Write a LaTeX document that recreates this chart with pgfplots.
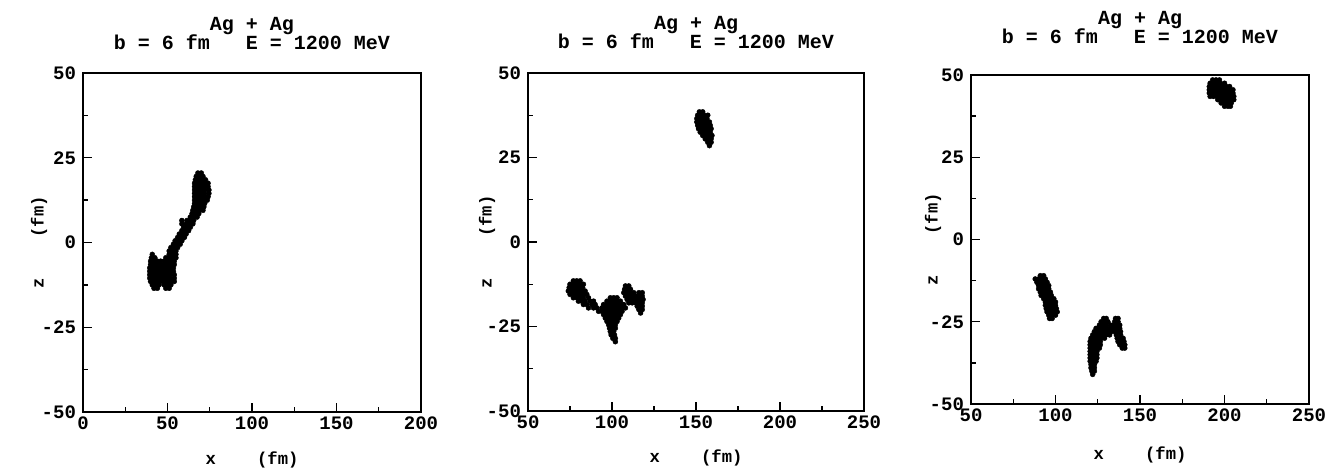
\documentclass[border=0pt]{standalone}
\usepackage{pgfplots}
\pgfplotsset{compat=1.18}
\usepackage{fontspec}
\setmainfont{Liberation Mono}
\pgfplotsset{
  panel/.style={
    scale only axis, width=169pt, height=169.5pt,
    axis line style={line width=0.9pt, black},
    tick style={black, line width=0.7pt},
    xtick pos=bottom, ytick pos=left, tick align=inside,
    major tick length=4.5pt, minor tick length=2.5pt,
    ymin=-50, ymax=50, ytick={-50,-25,0,25,50}, minor y tick num=1,
    minor x tick num=1,
    /pgf/number format/assume math mode=true,
    ticklabel style={font=\bfseries\fontsize{9.5}{9.5}\selectfont},
    xticklabel style={yshift=1pt},
    label style={font=\bfseries\fontsize{8.6}{9}\selectfont},
    xlabel={x\ \ \ \ (fm)}, ylabel={z\ \ \ \ (fm)},
    title={Ag + Ag\\[-2.5pt]b = 6 fm\ \ \ E = 1200 MeV},
    title style={font=\bfseries\fontsize{10}{12}\selectfont, align=center, anchor=center},
    clip=false
  },
  mk/.style={only marks, mark=*, mark size=1.25pt, black, mark options={line width=0.2pt}}
}
\begin{document}
\begin{tikzpicture}
\useasboundingbox (0,0) rectangle (663.5pt,234pt);
% ---------------- Panel 1 ----------------
\begin{axis}[panel, at={(41.5pt,28pt)}, anchor=south west,
  xmin=0, xmax=200, xtick={0,50,100,150,200},
  title style={at={(axis description cs:0.5,1)}, yshift=14pt},
  xlabel style={at={(axis description cs:0.5,-0.142)}, anchor=center},
  ylabel style={at={(axis description cs:-0.13,0.5)}, anchor=center}]
\addplot[mk] coordinates {
(68,20.5)(70,20.5)
(67,19.5)(69,19.5)(71,19.5)
(66.5,18.5)(68.5,18.5)(70.5,18.5)(72.5,18.5)
(66,17.5)(68,17.5)(70,17.5)(72,17.5)(74,17.5)
(66,16.5)(68,16.5)(70,16.5)(72,16.5)(74,16.5)
(66,15.5)(68,15.5)(70,15.5)(72,15.5)(74.5,15.5)
(66,14.5)(68,14.5)(70,14.5)(72,14.5)(74.5,14.5)
(66,13.5)(68,13.5)(70,13.5)(72,13.5)(74,13.5)
(66,12.5)(68,12.5)(70,12.5)(72,12.5)(73.5,12.5)
(66,11.5)(68,11.5)(70,11.5)(72,11.5)
(65.5,10.5)(67.5,10.5)(69.5,10.5)(71.5,10.5)
(65,9.5)(67,9.5)(69,9.5)(71,9.5)
(64.5,8.5)(66.5,8.5)(68.5,8.5)
(63.5,7.5)(65.5,7.5)(67.5,7.5)
(58.5,6.5)(61.5,6.5)(63.5,6.5)(65.5,6.5)
(58.5,5.5)(61,5.5)(63,5.5)(65,5.5)
(59.5,4.5)(61.5,4.5)(63.5,4.5)
(58.5,3.5)(60.5,3.5)(62.5,3.5)
(57,2.5)(59,2.5)(61,2.5)
(56,1.5)(58,1.5)(60,1.5)
(54.5,0.5)(56.5,0.5)(58.5,0.5)
(53.5,-0.5)(55.5,-0.5)(57.5,-0.5)
(52,-1.5)(54,-1.5)(56,-1.5)
(51,-2.5)(53,-2.5)(55,-2.5)
(41,-3.5)(51,-3.5)(53,-3.5)(55,-3.5)
(40.5,-4.5)(42.5,-4.5)(49,-4.5)(51,-4.5)(53,-4.5)(55,-4.5)
(40,-5.5)(42,-5.5)(44,-5.5)(46,-5.5)(48,-5.5)(50,-5.5)(52,-5.5)(54,-5.5)
(40,-6.5)(42,-6.5)(44,-6.5)(46,-6.5)(48,-6.5)(50,-6.5)(52,-6.5)(54,-6.5)
(39.5,-7.5)(41.5,-7.5)(43.5,-7.5)(45.5,-7.5)(47.5,-7.5)(49.5,-7.5)(51.5,-7.5)(53.5,-7.5)
(39.5,-8.5)(41.5,-8.5)(43.5,-8.5)(45.5,-8.5)(47.5,-8.5)(49.5,-8.5)(51.5,-8.5)(53.5,-8.5)
(39.5,-9.5)(41.5,-9.5)(43.5,-9.5)(45.5,-9.5)(47.5,-9.5)(49.5,-9.5)(51.5,-9.5)(54,-9.5)
(39.5,-10.5)(41.5,-10.5)(43.5,-10.5)(45.5,-10.5)(47.5,-10.5)(49.5,-10.5)(51.5,-10.5)(54,-10.5)
(40,-11.5)(42,-11.5)(44,-11.5)(46,-11.5)(48,-11.5)(50,-11.5)(52,-11.5)(54,-11.5)
(41,-12.5)(43,-12.5)(45,-12.5)(48,-12.5)(50,-12.5)(52,-12.5)
(42,-13.5)(44,-13.5)(49,-13.5)(51,-13.5)
};
\end{axis}
% ---------------- Panel 2 ----------------
\begin{axis}[panel, at={(264pt,28.5pt)}, anchor=south west,
  width=168pt, height=169pt,
  xmin=50, xmax=250, xtick={50,100,150,200,250},
  title style={at={(axis description cs:0.5,1)}, yshift=14pt},
  xlabel style={at={(axis description cs:0.5,-0.139)}, anchor=center},
  ylabel style={at={(axis description cs:-0.122,0.5)}, anchor=center}]
\addplot[mk] coordinates {
(152,38.5)(154,38.5)
(151,37.5)(153,37.5)(155,37.5)(157,37.5)
(150.5,36.5)(152.5,36.5)(154.5,36.5)(156.5,36.5)
(150.5,35.5)(152.5,35.5)(154.5,35.5)(156.5,35.5)(158,35.5)
(151,34.5)(153,34.5)(155,34.5)(157,34.5)(158.5,34.5)
(151.5,33.5)(153.5,33.5)(155.5,33.5)(157.5,33.5)(159,33.5)
(152.5,32.5)(154.5,32.5)(156.5,32.5)(158.5,32.5)
(154,31.5)(156,31.5)(158,31.5)(159.5,31.5)
(155.5,30.5)(157.5,30.5)(159,30.5)
(157,29.5)(159,29.5)
(158,28.5)
};
\addplot[mk] coordinates {
(77,-11.5)(79,-11.5)(81,-11.5)
(75,-12.5)(77,-12.5)(79,-12.5)(81,-12.5)(83,-12.5)
(74.5,-13.5)(76.5,-13.5)(78.5,-13.5)(80.5,-13.5)(82.5,-13.5)
(74,-14.5)(76,-14.5)(78,-14.5)(80,-14.5)(82,-14.5)(84,-14.5)
(75,-15.5)(77,-15.5)(79,-15.5)(81,-15.5)(83,-15.5)(85,-15.5)
(77,-16.5)(79,-16.5)(81,-16.5)(83,-16.5)(86,-16.5)
(80,-17.5)(82,-17.5)(84,-17.5)(87,-17.5)(89,-17.5)
(83,-18.5)(85,-18.5)(88,-18.5)(90,-18.5)
(86,-19.5)(89,-19.5)(91,-19.5)
(92,-20.5)
(99,-16.5)(101,-16.5)(103,-16.5)
(97,-17.5)(99,-17.5)(101,-17.5)(103,-17.5)(105,-17.5)
(95,-18.5)(97,-18.5)(99,-18.5)(101,-18.5)(103,-18.5)(105,-18.5)(107,-18.5)
(94,-19.5)(96,-19.5)(98,-19.5)(100,-19.5)(102,-19.5)(104,-19.5)(106,-19.5)(108,-19.5)
(94,-20.5)(96,-20.5)(98,-20.5)(100,-20.5)(102,-20.5)(104,-20.5)(106,-20.5)
(95,-21.5)(97,-21.5)(99,-21.5)(101,-21.5)(103,-21.5)(105,-21.5)
(96,-22.5)(98,-22.5)(100,-22.5)(102,-22.5)(104,-22.5)
(97,-23.5)(99,-23.5)(101,-23.5)(103,-23.5)
(98,-24.5)(100,-24.5)(102,-24.5)
(98.5,-25.5)(100.5,-25.5)(102,-25.5)
(99,-26.5)(101,-26.5)
(99.5,-27.5)(101.5,-27.5)
(100.5,-28.5)(102,-28.5)
(102,-29.5)
(108,-13)(110,-13)
(107.5,-14)(109.5,-14)(111,-14)
(107,-15)(109,-15)(111,-15)(113,-15)(116,-15)(118,-15)
(108,-16)(110,-16)(112,-16)(114,-16)(116,-16)(118,-16)
(109,-17)(111,-17)(113,-17)(115,-17)(117,-17)(118.5,-17)
(110,-18)(112,-18)(114,-18)(116,-18)(118,-18)
(115,-19)(117,-19)(118,-19)
(116,-20)(118,-20)
(117,-21)
};
\end{axis}
% ---------------- Panel 3 ----------------
\begin{axis}[panel, at={(485.5pt,32pt)}, anchor=south west,
  width=169pt, height=164.5pt,
  xmin=50, xmax=250, xtick={50,100,150,200,250},
  title style={at={(axis description cs:0.5,1)}, yshift=17.75pt},
  xlabel style={at={(axis description cs:0.5,-0.155)}, anchor=center},
  ylabel style={at={(axis description cs:-0.112,0.5)}, anchor=center}]
\addplot[mk] coordinates {
(193,48.5)(195,48.5)(197,48.5)
(191.5,47.5)(193.5,47.5)(195.5,47.5)(197.5,47.5)(200,47.5)
(191,46.5)(193,46.5)(195,46.5)(197,46.5)(199,46.5)(201,46.5)(203,46.5)
(191,45.5)(193,45.5)(195,45.5)(197,45.5)(199,45.5)(201,45.5)(203,45.5)(205,45.5)
(191,44.5)(193,44.5)(195,44.5)(197,44.5)(199,44.5)(201,44.5)(203,44.5)(205,44.5)
(191.5,43.5)(193.5,43.5)(195.5,43.5)(197.5,43.5)(199.5,43.5)(201.5,43.5)(203.5,43.5)(205.5,43.5)
(196,42.5)(198,42.5)(200,42.5)(202,42.5)(204,42.5)(205.5,42.5)
(198,41.5)(200,41.5)(202,41.5)(204,41.5)
(200,40.5)(202,40.5)(203.5,40.5)
};
\addplot[mk] coordinates {
(91,-11)(93,-11)
(88,-12)(90,-12)(92,-12)(94,-12)
(89,-13)(91,-13)(93,-13)(95,-13)
(90,-14)(92,-14)(94,-14)(96,-14)
(90,-15)(92,-15)(94,-15)(96,-15)
(91,-16)(93,-16)(95,-16)(97,-16)
(91.5,-17)(93.5,-17)(95.5,-17)(97.5,-17)
(93,-18)(95,-18)(97,-18)(99,-18)
(94,-19)(96,-19)(98,-19)(100,-19)
(94,-20)(96,-20)(98,-20)(100,-20)
(94.5,-21)(96.5,-21)(98.5,-21)(100.5,-21)
(95,-22)(97,-22)(99,-22)(101,-22)
(96,-23)(98,-23)(100,-23)
(96.5,-24)(98,-24)
};
\addplot[mk] coordinates {
(128.5,-24)(130,-24)(135.5,-24)(137,-24)
(127,-25)(129,-25)(131,-25)(135,-25)(137,-25)
(126,-26)(128,-26)(130,-26)(132.5,-26)(134.5,-26)(136.5,-26)(138,-26)
(124,-27)(126,-27)(128,-27)(130,-27)(132,-27)(134,-27)(136,-27)(138,-27)
(123,-28)(125,-28)(127,-28)(129,-28)(131,-28)(133,-28)(135,-28)(137,-28)(138.5,-28)
(122,-29)(124,-29)(126,-29)(128,-29)(130,-29)(132,-29)(136,-29)(138.5,-29)
(121,-30)(123,-30)(125,-30)(127,-30)(129,-30)(136.5,-30)(138.5,-30)(140,-30)
(120.5,-31)(122.5,-31)(124.5,-31)(126.5,-31)(137,-31)(139,-31)(140.5,-31)
(120.5,-32)(122.5,-32)(124.5,-32)(126.5,-32)(138,-32)(140,-32)(141,-32)
(120.5,-33)(122.5,-33)(124.5,-33)(126,-33)(139.5,-33)(141,-33)
(120.5,-34)(122.5,-34)(124.5,-34)
(120.5,-35)(122.5,-35)(124.5,-35)
(120.5,-36)(122.5,-36)(124.5,-36)
(120.5,-37)(122.5,-37)(124,-37)
(121,-38)(123,-38)
(121,-39)(123,-39)
(121.5,-40)(123,-40)
(122,-41)
};
\end{axis}
\end{tikzpicture}
\end{document}
